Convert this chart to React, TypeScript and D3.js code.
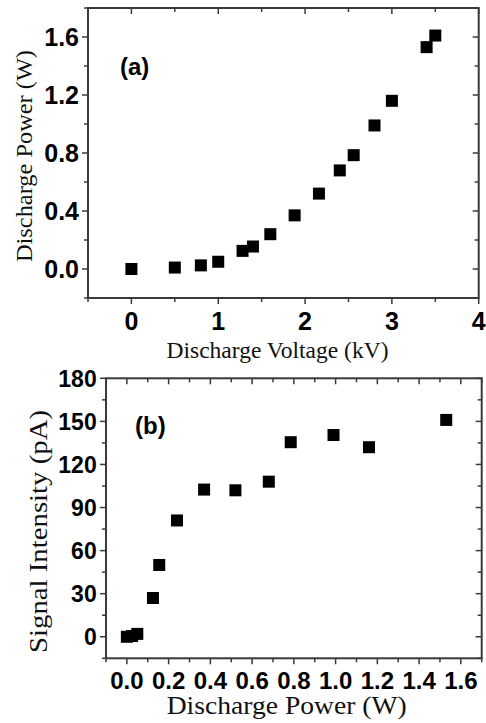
import React from "react";
import * as d3 from "d3";

// Panel (a): discharge voltage vs discharge power
const aVoltage = [0, 0.5, 0.8, 1.0, 1.28, 1.4, 1.6, 1.88, 2.16, 2.4, 2.56, 2.8, 3.0, 3.4, 3.5];
const aPower = [0, 0.01, 0.025, 0.05, 0.125, 0.155, 0.24, 0.37, 0.52, 0.68, 0.785, 0.99, 1.16, 1.53, 1.61];
const aXTicks = [0, 1, 2, 3, 4];
const aXTickLabels = ["0", "1", "2", "3", "4"];
const aYTicks = [0, 0.4, 0.8, 1.2, 1.6];
const aYTickLabels = ["0.0", "0.4", "0.8", "1.2", "1.6"];

// Panel (b): discharge power vs signal intensity
const bPower = [0, 0.025, 0.05, 0.125, 0.155, 0.24, 0.37, 0.52, 0.68, 0.785, 0.99, 1.16, 1.53];
const bSignal = [0, 0.5, 2, 27, 50, 81, 102.5, 102, 108, 135.5, 140.5, 132, 151];
const bXTicks = [0, 0.2, 0.4, 0.6, 0.8, 1.0, 1.2, 1.4, 1.6];
const bXTickLabels = ["0.0", "0.2", "0.4", "0.6", "0.8", "1.0", "1.2", "1.4", "1.6"];
const bYTicks = [0, 30, 60, 90, 120, 150, 180];
const bYTickLabels = ["0", "30", "60", "90", "120", "150", "180"];

const AXIS = "#3a3a3a";
const SANS = "'Liberation Sans', Arial, sans-serif";
const SERIF = "'Liberation Serif', 'Times New Roman', serif";

type PanelProps = {
  xs: number[];
  ys: number[];
  xDomain: [number, number];
  yDomain: [number, number];
  box: { l: number; r: number; t: number; b: number };
  xTicks: number[];
  xTickLabels: string[];
  yTicks: number[];
  yTickLabels: string[];
  xMinorStep: number;
  yMinorStep: number;
  xLabelSize: number;
  yLabelSize: number;
  xLabelBaseline: number;
  yLabelRight: number;
  xTitle: string;
  xTitleX: number;
  xTitleY: number;
  xTitleSize: number;
  xTitleLen: number;
  yTitle: string;
  yTitleX: number;
  yTitleY: number;
  yTitleSize: number;
  yTitleLen: number;
  tag: string;
  tagX: number;
  tagY: number;
};

function minorTicks(domain: [number, number], step: number) {
  const out: number[] = [];
  const start = Math.ceil(domain[0] / step - 1e-9);
  const end = Math.floor(domain[1] / step + 1e-9);
  for (let i = start; i <= end; i++) out.push(+(i * step).toFixed(6));
  return out;
}

function Panel(p: PanelProps) {
  const x = d3.scaleLinear().domain(p.xDomain).range([p.box.l, p.box.r]);
  const y = d3.scaleLinear().domain(p.yDomain).range([p.box.b, p.box.t]);
  const isMajor = (v: number, majors: number[]) => majors.some((m) => Math.abs(m - v) < 1e-6);
  const xm = minorTicks(p.xDomain, p.xMinorStep);
  const ym = minorTicks(p.yDomain, p.yMinorStep);
  const sq = 12;
  const maj = 6;
  const mn = 4;
  return (
    <g>
      <rect x={p.box.l} y={p.box.t} width={p.box.r - p.box.l} height={p.box.b - p.box.t} fill="none" stroke={AXIS} strokeWidth={2} />
      {xm.map((v, i) => {
        const L = isMajor(v, p.xTicks) ? maj : mn;
        return (
          <g key={"xt" + i}>
            <line x1={x(v)} x2={x(v)} y1={p.box.b} y2={p.box.b + L} stroke={AXIS} strokeWidth={1.5} />
            <line x1={x(v)} x2={x(v)} y1={p.box.t} y2={p.box.t + L} stroke={AXIS} strokeWidth={1.5} />
          </g>
        );
      })}
      {ym.map((v, i) => {
        const L = isMajor(v, p.yTicks) ? maj : mn;
        return (
          <g key={"yt" + i}>
            <line x1={p.box.l - L} x2={p.box.l} y1={y(v)} y2={y(v)} stroke={AXIS} strokeWidth={1.5} />
            <line x1={p.box.r - L} x2={p.box.r} y1={y(v)} y2={y(v)} stroke={AXIS} strokeWidth={1.5} />
          </g>
        );
      })}
      {p.xTicks.map((v, i) => (
        <text key={"xl" + i} x={x(v)} y={p.xLabelBaseline} textAnchor="middle" fontFamily={SANS} fontWeight="bold" fontSize={p.xLabelSize} fill="#000">
          {p.xTickLabels[i]}
        </text>
      ))}
      {p.yTicks.map((v, i) => (
        <text key={"yl" + i} x={p.yLabelRight} y={y(v) + p.yLabelSize * 0.358} textAnchor="end" fontFamily={SANS} fontWeight="bold" fontSize={p.yLabelSize} fill="#000">
          {p.yTickLabels[i]}
        </text>
      ))}
      {p.xs.map((v, i) => (
        <rect key={"pt" + i} x={x(v) - sq / 2} y={y(p.ys[i]) - sq / 2} width={sq} height={sq} fill="#000" />
      ))}
      <text x={p.xTitleX} y={p.xTitleY} textAnchor="middle" fontFamily={SERIF} fontSize={p.xTitleSize} textLength={p.xTitleLen} lengthAdjust="spacingAndGlyphs" fill="#111">
        {p.xTitle}
      </text>
      <text transform={`translate(${p.yTitleX},${p.yTitleY}) rotate(-90)`} textAnchor="middle" fontFamily={SERIF} fontSize={p.yTitleSize} textLength={p.yTitleLen} lengthAdjust="spacingAndGlyphs" fill="#111">
        {p.yTitle}
      </text>
      <text x={p.tagX} y={p.tagY} fontFamily={SANS} fontWeight="bold" fontSize={24} fill="#000">
        {p.tag}
      </text>
    </g>
  );
}

export default function App() {
  return (
    <svg width={486} height={723} viewBox="0 0 486 723" style={{ position: "absolute", left: 0, top: 0, background: "#fff" }}>
      <rect x={0} y={0} width={486} height={723} fill="#fff" />
      <Panel
        xs={aVoltage}
        ys={aPower}
        xDomain={[-0.5, 4]}
        yDomain={[-0.2, 1.8]}
        box={{ l: 88, r: 478.7, t: 8, b: 298 }}
        xTicks={aXTicks}
        xTickLabels={aXTickLabels}
        yTicks={aYTicks}
        yTickLabels={aYTickLabels}
        xMinorStep={0.5}
        yMinorStep={0.2}
        xLabelSize={25}
        yLabelSize={25}
        xLabelBaseline={330}
        yLabelRight={79}
        xTitle="Discharge Voltage (kV)"
        xTitleX={277.5}
        xTitleY={358}
        xTitleSize={23}
        xTitleLen={222}
        yTitle="Discharge Power (W)"
        yTitleX={32}
        yTitleY={156}
        yTitleSize={24}
        yTitleLen={212}
        tag="(a)"
        tagX={120}
        tagY={75}
      />
      <Panel
        xs={bPower}
        ys={bSignal}
        xDomain={[-0.1, 1.7]}
        yDomain={[-15, 180]}
        box={{ l: 106, r: 481.7, t: 378.3, b: 658.3 }}
        xTicks={bXTicks}
        xTickLabels={bXTickLabels}
        yTicks={bYTicks}
        yTickLabels={bYTickLabels}
        xMinorStep={0.1}
        yMinorStep={15}
        xLabelSize={24}
        yLabelSize={23}
        xLabelBaseline={689}
        yLabelRight={96.7}
        xTitle="Discharge Power (W)"
        xTitleX={286.7}
        xTitleY={714}
        xTitleSize={25}
        xTitleLen={240}
        yTitle="Signal Intensity (pA)"
        yTitleX={47}
        yTitleY={531.5}
        yTitleSize={26}
        yTitleLen={243}
        tag="(b)"
        tagX={135}
        tagY={434}
      />
    </svg>
  );
}
